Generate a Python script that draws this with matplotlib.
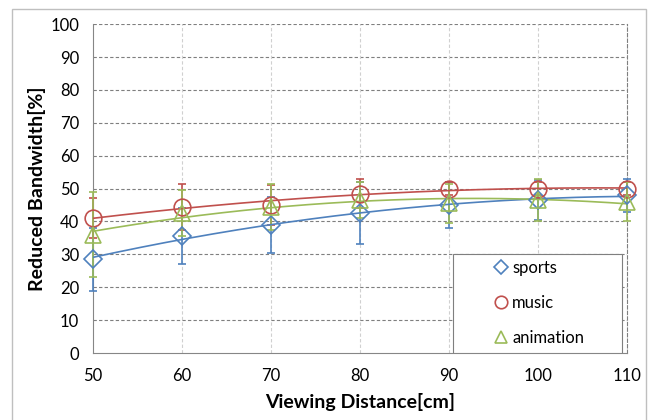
import matplotlib.pyplot as plt
import numpy as np
from matplotlib.patches import Rectangle

distance = [50, 60, 70, 80, 90, 100, 110]

sports = [28.5, 35.5, 39.0, 42.5, 45.0, 46.5, 48.0]
sports_err = [9.5, 8.5, 8.5, 9.5, 7.0, 6.0, 5.0]

music = [41.0, 44.5, 45.0, 48.5, 50.0, 50.0, 50.0]
music_err = [6.0, 7.0, 6.0, 4.5, 2.0, 2.0, 2.0]

animation = [36.0, 42.5, 44.5, 46.5, 45.5, 46.5, 46.0]
animation_err = [13.0, 7.0, 7.0, 5.5, 6.0, 6.5, 6.0]

x_ticks = [50, 60, 70, 80, 90, 100, 110]
y_ticks = [0, 10, 20, 30, 40, 50, 60, 70, 80, 90, 100]

plt.rcParams['font.family'] = ['Lato', 'DejaVu Sans']

fig = plt.figure(figsize=(6.48, 4.2), dpi=100)
ax = fig.add_axes([0.1435, 0.1595, 0.824, 0.783])
# chart area border
fig.patches.append(Rectangle((0.0185, -0.01), 0.978, 0.9886, transform=fig.transFigure,
                             fill=False, edgecolor='#bfbfbf', linewidth=1))

series = [
    ('sports', sports, sports_err, '#4f81bd', 'D', 9),
    ('music', music, music_err, '#c0504d', 'o', 12),
    ('animation', animation, animation_err, '#9bbb59', '^', 12),
]

xs = np.array(distance, dtype=float)
xfine = np.linspace(50, 110, 200)
for name, vals, err, col, mk, ms in series:
    eb = ax.errorbar(distance, vals, yerr=err, fmt='none', ecolor=col,
                     elinewidth=1.2, capsize=3, capthick=1.2, zorder=3)
    for art in eb.lines[1] + eb.lines[2]:
        art.set_clip_on(False)
    # polynomial trend line
    coef = np.polyfit(xs, vals, 2)
    ax.plot(xfine, np.polyval(coef, xfine), color=col, linewidth=1.2, zorder=4)
    ax.plot(distance, vals, linestyle='none', marker=mk, markersize=ms,
            markerfacecolor='none', markeredgecolor=col, markeredgewidth=1.2,
            label=name, zorder=5, clip_on=False)

ax.set_xlim(50, 110)
ax.set_ylim(0, 100)
ax.set_xticks(x_ticks)
ax.set_yticks(y_ticks)
ax.tick_params(axis='both', labelsize=12, length=0)
ax.tick_params(axis='x', pad=11)
ax.tick_params(axis='y', pad=10)

for y in y_ticks[1:]:
    ax.axhline(y, color='#7f7f7f', linestyle=(0, (3, 2)), linewidth=0.8, zorder=1)
for x in x_ticks[1:-1]:
    ax.axvline(x, color='#d0d0d0', linestyle=(0, (3, 2)), linewidth=0.8, zorder=1)

ax.spines['left'].set_color('#868686')
ax.spines['bottom'].set_color('#868686')
ax.spines['top'].set_visible(False)
ax.spines['right'].set_linestyle((0, (3, 2)))
ax.spines['right'].set_color('#7f7f7f')
ax.spines['right'].set_linewidth(0.8)

ax.set_xlabel('Viewing Distance[cm]', fontsize=14, fontweight='bold', labelpad=6)
ax.set_ylabel('Reduced Bandwidth[%]', fontsize=14, fontweight='bold', labelpad=3)

# legend box
ax.add_patch(Rectangle((0.674, 0.0), 0.317, 0.301, transform=ax.transAxes,
                       facecolor='white', edgecolor='#7f7f7f', linewidth=0.8,
                       zorder=6))
leg = ax.legend(loc='center left', bbox_to_anchor=(0.749, 0.152),
                frameon=False, fontsize=12, markerscale=0.75,
                handlelength=1.0, handletextpad=0.15, labelspacing=1.15,
                borderpad=0, borderaxespad=0)
leg.set_zorder(7)

plt.savefig('out.png', dpi=100)
